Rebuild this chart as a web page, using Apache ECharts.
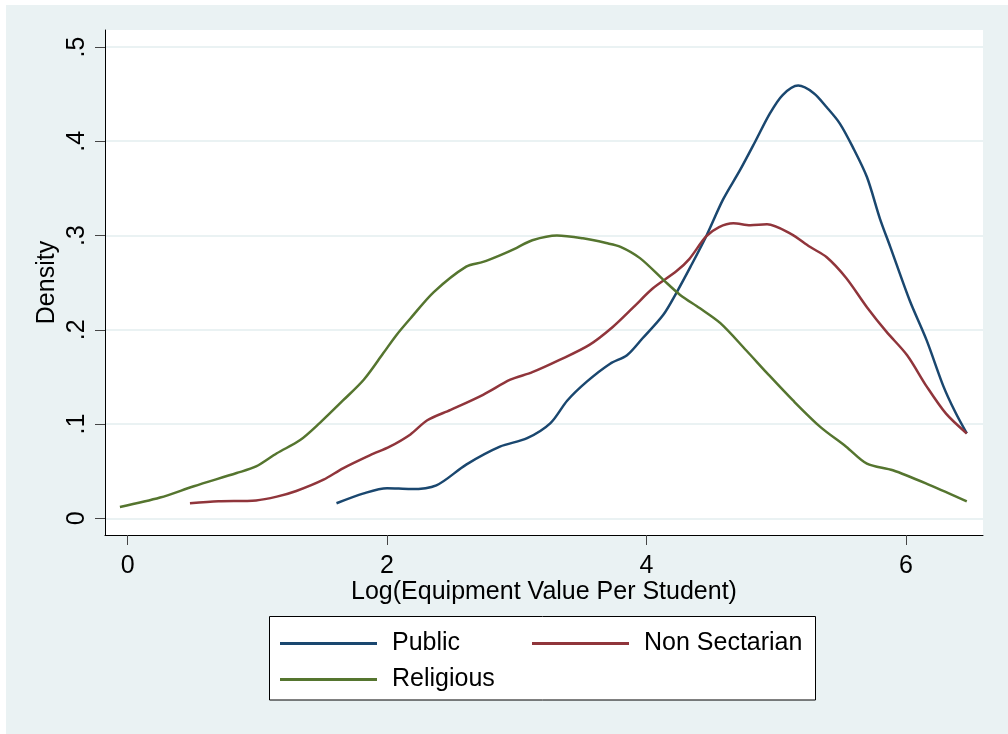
<!DOCTYPE html>
<html>
<head>
<meta charset="utf-8">
<script src="https://cdn.jsdelivr.net/npm/echarts@6/dist/echarts.min.js"></script>
<style>
  html, body { margin: 0; padding: 0; background: #fff; }
  #main { width: 1008px; height: 734px; }
</style>
</head>
<body>
<div id="main"></div>
<script>
var chartDom = document.getElementById('main');
var myChart = echarts.init(chartDom);

// tick labels
var xTicks = [0, 2, 4, 6];
var yTicks = [0, 0.1, 0.2, 0.3, 0.4, 0.5];

// Public
var publicX = [1.61, 1.82, 2.00, 2.18, 2.38, 2.61, 2.87, 3.08, 3.26, 3.39, 3.54, 3.72, 3.85, 3.97, 4.13, 4.23, 4.34, 4.46, 4.59, 4.72, 4.84, 4.95, 5.05, 5.17, 5.29, 5.39, 5.49, 5.59, 5.70, 5.80, 5.88, 6.03, 6.16, 6.29, 6.38, 6.47];
var publicY = [0.016, 0.0265, 0.032, 0.031, 0.035, 0.057, 0.076, 0.085, 0.101, 0.125, 0.145, 0.164, 0.173, 0.191, 0.216, 0.239, 0.267, 0.299, 0.338, 0.369, 0.400, 0.429, 0.449, 0.459, 0.451, 0.436, 0.419, 0.394, 0.362, 0.318, 0.288, 0.231, 0.189, 0.140, 0.113, 0.090];

// Non Sectarian
var nonSectX = [0.48, 0.70, 0.99, 1.15, 1.30, 1.51, 1.66, 1.87, 2.02, 2.18, 2.31, 2.49, 2.74, 2.95, 3.12, 3.33, 3.56, 3.74, 3.90, 4.05, 4.23, 4.33, 4.46, 4.56, 4.67, 4.80, 4.93, 5.11, 5.26, 5.39, 5.54, 5.70, 5.85, 6.01, 6.16, 6.31, 6.47];
var nonSectY = [0.016, 0.018, 0.019, 0.023, 0.029, 0.041, 0.053, 0.067, 0.076, 0.089, 0.104, 0.115, 0.131, 0.147, 0.155, 0.168, 0.184, 0.203, 0.224, 0.244, 0.262, 0.275, 0.299, 0.309, 0.313, 0.311, 0.312, 0.302, 0.288, 0.277, 0.255, 0.224, 0.198, 0.173, 0.140, 0.111, 0.090];

// Religious
var religX = [-0.06, 0.25, 0.51, 0.84, 0.99, 1.15, 1.33, 1.48, 1.66, 1.82, 1.97, 2.07, 2.18, 2.36, 2.61, 2.74, 2.87, 3.00, 3.12, 3.31, 3.51, 3.69, 3.80, 3.95, 4.13, 4.26, 4.41, 4.57, 4.77, 4.93, 5.13, 5.34, 5.54, 5.70, 5.90, 6.19, 6.47];
var religY = [0.012, 0.022, 0.034, 0.048, 0.055, 0.069, 0.083, 0.101, 0.125, 0.147, 0.175, 0.194, 0.212, 0.240, 0.267, 0.272, 0.279, 0.287, 0.295, 0.300, 0.297, 0.292, 0.288, 0.276, 0.253, 0.237, 0.223, 0.207, 0.178, 0.154, 0.125, 0.097, 0.076, 0.058, 0.051, 0.035, 0.018];

function pairs(xs, ys) {
    var out = [];
    for (var i = 0; i < xs.length; i++) {
        out.push([xs[i], ys[i]]);
    }
    return out;
}

var font = "'Liberation Sans', Arial, sans-serif";
var bgColor = '#eaf2f3';

function legendItem(name, left, top) {
    return {
        data: [name],
        left: left,
        top: top,
        padding: 0,
        icon: 'rect',
        itemWidth: 97,
        itemHeight: 3,
        textStyle: {
            color: '#000',
            fontSize: 25,
            fontFamily: font,
            padding: [0, 0, 0, 10]
        },
        selectedMode: false
    };
}

var option = {
    backgroundColor: bgColor,
    animation: false,
    textStyle: { fontFamily: font },
    graphic: [
        { type: 'rect', shape: { x: 0, y: 0, width: 1008, height: 5 }, style: { fill: '#fff' } },
        { type: 'rect', shape: { x: 0, y: 0, width: 6, height: 734 }, style: { fill: '#fff' } },
        {
            type: 'rect',
            shape: { x: 269.5, y: 616.5, width: 546, height: 83.5 },
            style: { fill: '#fff', stroke: '#000', lineWidth: 1 }
        }
    ],
    legend: [
        legendItem('Public', 280, 631),
        legendItem('Non Sectarian', 532, 631),
        legendItem('Religious', 280, 667)
    ],
    grid: {
        left: 105,
        right: 25,
        top: 30,
        bottom: 199,
        show: true,
        backgroundColor: '#fff',
        borderWidth: 0
    },
    xAxis: {
        type: 'value',
        min: -0.175,
        max: 6.595,
        name: 'Log(Equipment Value Per Student)',
        nameLocation: 'middle',
        nameGap: 45,
        nameMoveOverlap: false,
        nameTextStyle: { color: '#000', fontSize: 25, fontFamily: font },
        axisLine: { show: true, onZero: false, lineStyle: { color: '#000', width: 1 } },
        axisTick: { show: true, length: 10, customValues: xTicks, lineStyle: { color: '#444', width: 1 } },
        axisLabel: {
            customValues: xTicks,
            margin: 19,
            color: '#000',
            fontSize: 25,
            fontFamily: font
        },
        splitLine: { show: false }
    },
    yAxis: {
        type: 'value',
        min: -0.0177,
        max: 0.518,
        name: 'Density',
        nameLocation: 'middle',
        nameGap: 45,
        nameMoveOverlap: false,
        nameTextStyle: { color: '#000', fontSize: 25, fontFamily: font },
        axisLine: { show: true, onZero: false, lineStyle: { color: '#000', width: 1 } },
        axisTick: { show: true, length: 10, customValues: yTicks, lineStyle: { color: '#444', width: 1 } },
        axisLabel: {
            customValues: yTicks,
            rotate: 90,
            margin: 15,
            color: '#000',
            fontSize: 25,
            fontFamily: font,
            formatter: function (v) {
                if (v === 0) return '0';
                return String(Math.round(v * 10) / 10).replace(/^0/, '');
            }
        },
        splitLine: {
            show: true,
            customValues: yTicks,
            lineStyle: { color: bgColor, width: 2 }
        }
    },
    series: [
        {
            name: 'Public',
            type: 'line',
            data: pairs(publicX, publicY),
            symbol: 'none',
            smooth: 0.3,
            color: '#1a476f',
            lineStyle: { color: '#1a476f', width: 2.5 }
        },
        {
            name: 'Non Sectarian',
            type: 'line',
            data: pairs(nonSectX, nonSectY),
            symbol: 'none',
            smooth: 0.3,
            color: '#90353b',
            lineStyle: { color: '#90353b', width: 2.5 }
        },
        {
            name: 'Religious',
            type: 'line',
            data: pairs(religX, religY),
            symbol: 'none',
            smooth: 0.3,
            color: '#55752f',
            lineStyle: { color: '#55752f', width: 2.5 }
        }
    ]
};

myChart.setOption(option);
</script>
</body>
</html>
